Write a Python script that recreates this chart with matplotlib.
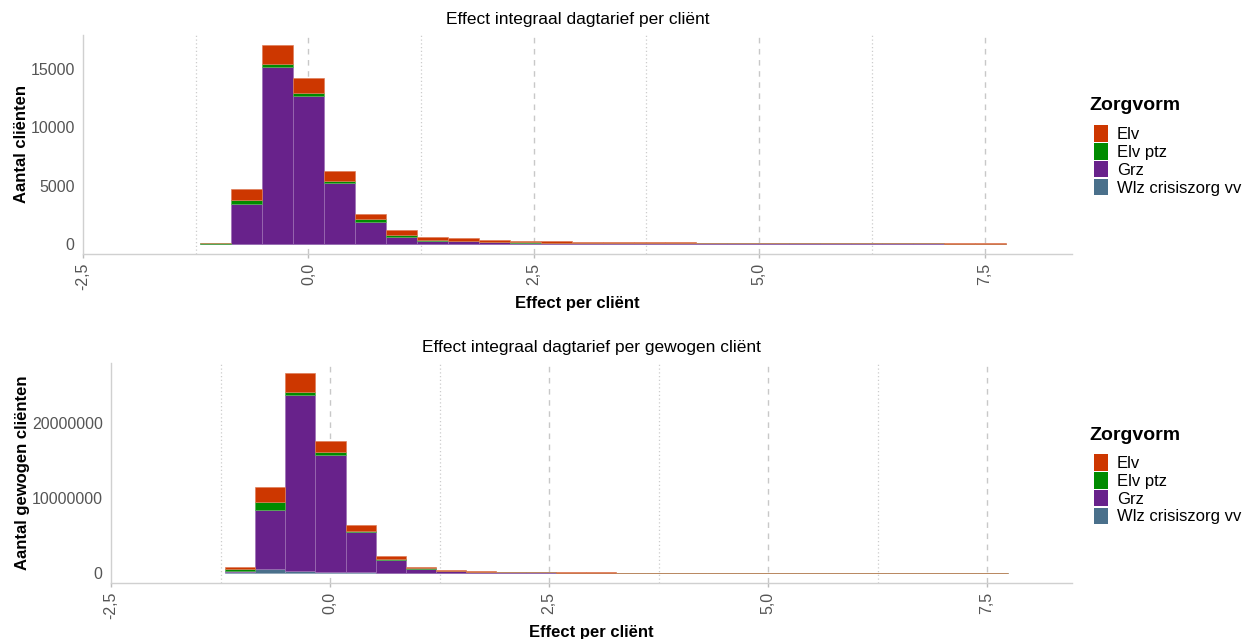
import numpy as np
import matplotlib
matplotlib.use("Agg")
import matplotlib.pyplot as plt
from matplotlib.patches import Patch
from matplotlib.colors import to_rgba
from matplotlib.ticker import FuncFormatter, FixedLocator

plt.rcParams['font.family'] = ['Liberation Sans', 'DejaVu Sans']

# histogram bins (effect per client)
bin_edges = [-1.197, -0.854, -0.510, -0.167, 0.177, 0.521, 0.864, 1.208, 1.551,
             1.895, 2.238, 2.582, 2.925, 3.269, 3.612, 3.956, 4.299, 4.643,
             4.986, 5.330, 5.673, 6.017, 6.360, 6.704, 7.047, 7.391, 7.734]

zorgvormen = ['Elv', 'Elv ptz', 'Grz', 'Wlz crisiszorg vv']
kleuren = {'Elv': '#CD3700', 'Elv ptz': '#008B00', 'Grz': '#68228B',
           'Wlz crisiszorg vv': '#4A708B'}

# aantal clienten per bin
clienten_elv = [20, 915, 1590, 1285, 820, 490, 400, 300, 250, 180, 130, 110, 95,
                80, 70, 65, 55, 50, 45, 40, 30, 25, 20, 18, 15, 10]
clienten_elvptz = [25, 340, 340, 255, 205, 190, 130, 40, 30, 20, 10, 10, 8, 6, 5,
                   5, 4, 4, 3, 3, 2, 2, 2, 2, 1, 1]
clienten_grz = [0, 3400, 15100, 12700, 5220, 1920, 640, 300, 220, 180, 130, 110,
                95, 85, 75, 70, 70, 65, 60, 55, 55, 55, 50, 48, 45, 40]
clienten_wlz = [40, 40, 30, 25, 15, 10, 5, 3, 2, 1, 1, 0, 0, 0, 0, 0, 0, 0, 0, 0,
                0, 0, 0, 0, 0, 0]

# aantal gewogen clienten per bin
gewogen_elv = [300000, 2080000, 2490000, 1510000, 720000, 400000, 230000, 120000,
               70000, 60000, 40000, 30000, 25000, 20000, 18000, 15000, 12000,
               10000, 10000, 8000, 7000, 6000, 5000, 5000, 4000, 3000]
gewogen_elvptz = [270000, 1030000, 490000, 360000, 210000, 130000, 80000, 30000,
                  10000, 10000, 5000, 4000, 3000, 2000, 2000, 1000, 1000, 1000,
                  1000, 1000, 500, 500, 500, 500, 500, 500]
gewogen_grz = [50000, 7770000, 23300000, 15500000, 5310000, 1650000, 520000,
               290000, 180000, 110000, 80000, 60000, 50000, 40000, 35000, 30000,
               25000, 20000, 20000, 15000, 15000, 12000, 10000, 10000, 8000, 6000]
gewogen_wlz = [180000, 590000, 320000, 190000, 100000, 40000, 20000, 10000, 5000,
               2000, 1000, 0, 0, 0, 0, 0, 0, 0, 0, 0, 0, 0, 0, 0, 0, 0]

x_major = [-2.5, 0.0, 2.5, 5.0, 7.5]
x_minor = [-1.25, 1.25, 3.75, 6.25]

fig = plt.figure(figsize=(12.52, 6.39), dpi=100)
W, H = 1252, 639


def box(l, t, r, b):
    return [l / W, 1 - b / H, (r - l) / W, (b - t) / H]


def lichter(kleur, f=0.35):
    r, g, b, _ = to_rgba(kleur)
    return (r + (1 - r) * f, g + (1 - g) * f, b + (1 - b) * f, 0.8)


def stacked_hist(ax, series, titel, ylabel, yticks):
    edges = np.array(bin_edges)
    widths = np.diff(edges)
    bottom = np.zeros(len(widths))
    # ggplot stacks the first level on top
    for naam in reversed(zorgvormen):
        vals = np.array(series[naam], dtype=float)
        ax.bar(edges[:-1], vals, width=widths, bottom=bottom, align='edge',
               color=kleuren[naam], edgecolor=lichter(kleuren[naam]),
               linewidth=0.6, zorder=3)
        bottom += vals
    top = bottom.max()
    ax.set_ylim(-0.05 * top, 1.05 * top)
    ax.set_xlim(-2.5, 8.47)

    for xv in x_major[1:]:
        ax.axvline(xv, color='#c8c8c8', linestyle=(0, (4, 4)), linewidth=1.0, zorder=1)
    for xv in x_minor:
        ax.axvline(xv, color='#cccccc', linestyle=(0, (1, 2)), linewidth=0.9, zorder=1)

    ax.xaxis.set_major_locator(FixedLocator(x_major))
    ax.xaxis.set_major_formatter(FuncFormatter(lambda v, p: f"{v:.1f}".replace('.', ',')))
    ax.set_yticks(yticks)
    ax.set_yticklabels([str(v) for v in yticks])
    ax.tick_params(axis='x', colors='#bbbbbb', labelcolor='#555555', labelsize=11.5,
                   labelrotation=90, length=3, width=1)
    ax.tick_params(axis='y', length=0, labelcolor='#555555', labelsize=11.5, pad=6)

    for s in ['top', 'right']:
        ax.spines[s].set_visible(False)
    for s in ['left', 'bottom']:
        ax.spines[s].set_color('#d0d0d0')
        ax.spines[s].set_linewidth(1.0)

    ax.set_title(titel, fontsize=12.5, pad=8)
    ax.set_xlabel('Effect per cliënt', fontsize=12, fontweight='bold', labelpad=4)
    ax.set_ylabel(ylabel, fontsize=12, fontweight='bold', labelpad=1)


ax1 = fig.add_axes(box(83, 35, 1072, 254))
stacked_hist(ax1, {'Elv': clienten_elv, 'Elv ptz': clienten_elvptz,
                   'Grz': clienten_grz, 'Wlz crisiszorg vv': clienten_wlz},
             'Effect integraal dagtarief per cliënt', 'Aantal cliënten',
             [0, 5000, 10000, 15000])

ax2 = fig.add_axes(box(111, 363, 1072, 583))
stacked_hist(ax2, {'Elv': gewogen_elv, 'Elv ptz': gewogen_elvptz,
                   'Grz': gewogen_grz, 'Wlz crisiszorg vv': gewogen_wlz},
             'Effect integraal dagtarief per gewogen cliënt', 'Aantal gewogen cliënten',
             [0, 10000000, 20000000])

# legend per panel: title as separate text, keys below it
handles = [Patch(facecolor=kleuren[n], edgecolor='none') for n in zorgvormen]
for ytitel, ykeys in ((106, 117), (436, 446)):
    fig.text(1089 / W, 1 - ytitel / H, 'Zorgvorm', fontsize=14, fontweight='bold',
             va='center', ha='left')
    fig.legend(handles, zorgvormen, loc='upper left',
               bbox_to_anchor=(1086 / W, 1 - ykeys / H), frameon=False,
               fontsize=12, handlelength=0.8, handleheight=1.15, handletextpad=0.55,
               labelspacing=0.05, borderpad=0)

fig.savefig('out.png', dpi=100)
